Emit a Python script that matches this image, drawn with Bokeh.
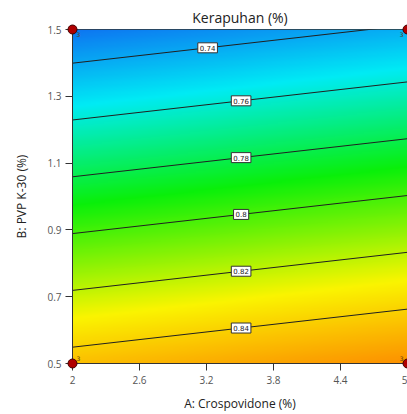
import numpy as np
from bokeh.plotting import figure
from bokeh.models import ColumnDataSource, FixedTicker, Range1d
from bokeh.core.properties import value
from bokeh.embed import file_html
from bokeh.resources import INLINE

# ---- data ----
title = "Kerapuhan (%)"
x_label = "A: Crospovidone (%)"
y_label = "B: PVP K-30 (%)"
x_ticks = [2, 2.6, 3.2, 3.8, 4.4, 5]
y_ticks = [0.5, 0.7, 0.9, 1.1, 1.3, 1.5]
# linear fitted model  R = b0 + bA*A + bB*B  (estimated from the contour lines)
b0 = 0.8956
bA = 0.00447
bB = -0.1176
levels = [0.74, 0.76, 0.78, 0.80, 0.82, 0.84]
level_labels = ["0.74", "0.76", "0.78", "0.8", "0.82", "0.84"]
label_A = [3.21, 3.51, 3.51, 3.51, 3.51, 3.51]
design_A = [2, 2, 5, 5]
design_B = [0.5, 1.5, 0.5, 1.5]
design_reps = ["3", "3", "3", "3"]
# colour scale stops (response value -> colour)
stop_vals = [0.715, 0.755, 0.79, 0.83, 0.89]
stop_cols = [(20, 60, 240), (0, 235, 245), (10, 240, 10), (250, 245, 0), (255, 40, 0)]

xmin, xmax = x_ticks[0], x_ticks[-1]
ymin, ymax = y_ticks[0], y_ticks[-1]

p = figure(width=407, height=414, output_backend="svg", toolbar_location=None,
           x_range=Range1d(xmin, xmax), y_range=Range1d(ymin, ymax),
           min_border_left=72, min_border_right=0, min_border_top=29, min_border_bottom=49)

# ---- colour image of the model ----
nx, ny = 300, 300
gx = np.linspace(xmin, xmax, nx)
gy = np.linspace(ymin, ymax, ny)
GX, GY = np.meshgrid(gx, gy)
R = b0 + bA * GX + bB * GY
sv = np.array(stop_vals)
sc = np.array(stop_cols, dtype=float)
img = np.zeros((ny, nx), dtype=np.uint32)
view = img.view(dtype=np.uint8).reshape((ny, nx, 4))
for ch in range(3):
    view[:, :, ch] = np.interp(R, sv, sc[:, ch]).astype(np.uint8)
view[:, :, 3] = 255
p.image_rgba(image=[img], x=xmin, y=ymin, dw=xmax - xmin, dh=ymax - ymin)

# ---- contour lines ----
xs, ys = [], []
for lv in levels:
    xa = np.array([xmin, xmax])
    yb = (lv - b0 - bA * xa) / bB
    xs.append(list(xa))
    ys.append(list(yb))
p.multi_line(xs=xs, ys=ys, line_color="#202020", line_width=1)

# ---- contour labels ----
lab_B = [(lv - b0 - bA * a) / bB for lv, a in zip(levels, label_A)]
lsrc = ColumnDataSource(dict(x=label_A, y=lab_B, t=level_labels))
p.text(x="x", y="y", text="t", source=lsrc, text_font=value("DejaVu Sans"),
       text_font_size="7px", text_align="center", text_baseline="middle",
       text_color="#222222", background_fill_color="white",
       border_line_color="#333333", border_line_width=1, padding=2)

# ---- design points ----
dsrc = ColumnDataSource(dict(x=design_A, y=design_B, t=design_reps,
                             xo=[4 if a == xmin else -4 for a in design_A],
                             yo=[-5 if b == ymin else 5 for b in design_B],
                             al=["left" if a == xmin else "right" for a in design_A]))
p.text(x="x", y="y", text="t", source=dsrc, x_offset="xo", y_offset="yo",
       text_align="al", text_baseline="middle", text_font=value("DejaVu Sans"),
       text_font_size="6px", text_color="#5a3a10")
p.scatter(x="x", y="y", source=dsrc, size=9, fill_color="#b00000",
          line_color="#400000", line_width=1, level="overlay")

# ---- styling ----
p.title.text = title
p.title.align = "center"
p.title.text_font = "Open Sans"
p.title.text_font_size = "14px"
p.title.text_font_style = "normal"
p.title.text_color = "#222222"
p.title.standoff = 5
p.title.offset = 0

p.grid.visible = False
p.outline_line_color = "#333333"
p.outline_line_width = 1

for ax in (p.xaxis[0], p.yaxis[0]):
    ax.axis_line_color = "#333333"
    ax.major_tick_line_color = "#333333"
    ax.major_tick_in = 0
    ax.major_tick_out = 7
    ax.minor_tick_line_color = None
    ax.major_label_text_font = "Open Sans"
    ax.major_label_text_font_size = "10px"
    ax.major_label_text_color = "#555555"
    ax.axis_label_text_font = "Open Sans"
    ax.axis_label_text_font_size = "12px"
    ax.axis_label_text_font_style = "normal"
    ax.axis_label_text_color = "#222222"

p.xaxis.ticker = FixedTicker(ticks=x_ticks)
p.yaxis.ticker = FixedTicker(ticks=y_ticks)
p.xaxis.major_label_overrides = {t: ("%g" % t) for t in x_ticks}
p.yaxis.major_label_overrides = {t: ("%g" % t) for t in y_ticks}
p.xaxis.axis_label = x_label
p.yaxis.axis_label = y_label
p.xaxis.major_label_standoff = 5
p.xaxis.axis_label_standoff = 8
p.yaxis.major_label_standoff = 4
p.yaxis.axis_label_standoff = 14

open("out.html", "w").write(file_html(p, INLINE))
